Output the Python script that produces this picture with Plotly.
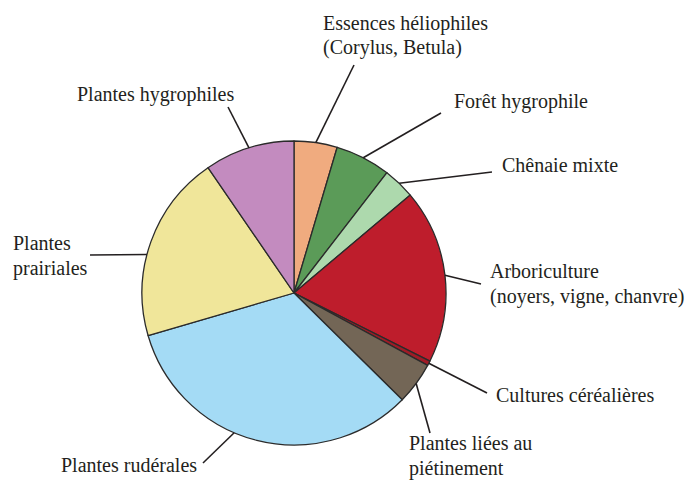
import math
import plotly.graph_objects as go

# ---- data ----
labels = [
    "Essences héliophiles<br>(Corylus, Betula)",
    "Forêt hygrophile",
    "Chênaie mixte",
    "Arboriculture<br>(noyers, vigne, chanvre)",
    "Cultures céréalières",
    "Plantes liées au<br>piétinement",
    "Plantes rudérales",
    "Plantes<br>prairiales",
    "Plantes hygrophiles",
]
values = [4.6, 5.9, 3.4, 18.6, 0.5, 4.5, 33.2, 20.0, 9.6]

# ---- style ----
colors = ["#F0AB7F", "#5B9B58", "#ADD9AD", "#BE1D2C", "#A01B26",
          "#736656", "#A4DBF5", "#F0E69A", "#C38BBF"]
W, H = 685, 482
cx, cy, R = 294, 293, 152
# label-side end of each leader line (px), text anchor (px), horizontal anchor
leader_end = [(354, 65), (441, 113), (492, 172), (481, 284), (487, 393),
              (430, 433), (203, 463), (90, 255), (228, 107)]
text_pos = [(321, 23), (452, 101), (500, 165), (488, 271), (494, 395),
            (407, 443), (199, 465), (11, 243), (236, 95)]
text_anchor = ["left", "left", "left", "left", "left", "left", "right", "left", "right"]
angle_offset = [0, 0, 0, 0, 0, 0, 9, -5, 0]
line_gap = 25
font = dict(family="Liberation Serif, Times New Roman, DejaVu Serif, serif",
            size=20, color="#231F20")

fig = go.Figure(go.Pie(
    labels=labels, values=values, sort=False, direction="clockwise", rotation=0,
    marker=dict(colors=colors, line=dict(color="#2b2b2b", width=1.3)),
    textinfo="none", hoverinfo="label+percent", showlegend=False,
    domain=dict(x=[(cx - R) / W, (cx + R) / W], y=[1 - (cy + R) / H, 1 - (cy - R) / H]),
))

total = sum(values)
shapes, annotations = [], []
acc = 0.0
for i, v in enumerate(values):
    mid = (acc + v / 2) / total * 360 + angle_offset[i]
    acc += v
    a = math.radians(mid)
    ex, ey = cx + R * math.sin(a), cy - R * math.cos(a)
    lx, ly = leader_end[i]
    shapes.append(dict(type="line", xref="paper", yref="paper",
                       x0=ex / W, y0=1 - ey / H, x1=lx / W, y1=1 - ly / H,
                       line=dict(color="#231F20", width=1.6)))
    tx, ty = text_pos[i]
    for k, part in enumerate(labels[i].split("<br>")):
        annotations.append(dict(text=part, xref="paper", yref="paper",
                                x=tx / W, y=1 - (ty + k * line_gap) / H,
                                xanchor=text_anchor[i], yanchor="middle",
                                showarrow=False, font=font))

fig.update_layout(width=W, height=H, margin=dict(l=0, r=0, t=0, b=0),
                  paper_bgcolor="white", plot_bgcolor="white",
                  shapes=shapes, annotations=annotations)
fig.write_html("out.html", config={"displayModeBar": False},
               post_script="document.documentElement.style.margin='0';"
                           "document.body.style.margin='0';"
                           "document.body.style.overflow='hidden';")
